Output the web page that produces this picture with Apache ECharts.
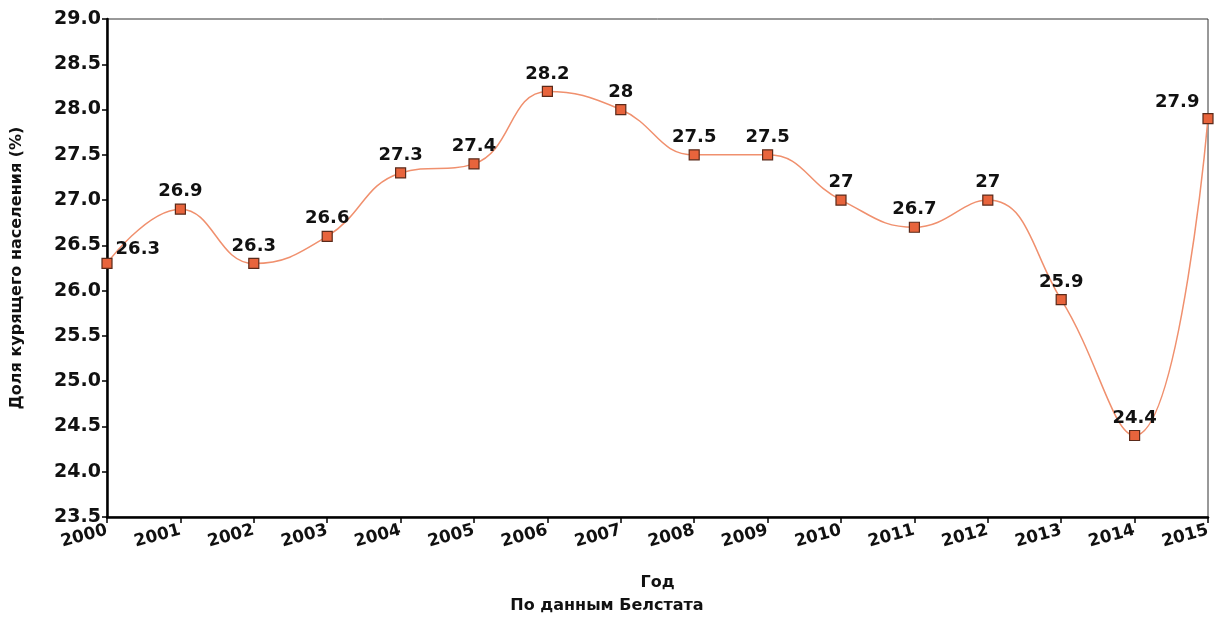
<!DOCTYPE html>
<html><head><meta charset="utf-8">
<script src="https://cdn.jsdelivr.net/npm/echarts@6/dist/echarts.min.js"></script>
<style>html,body{margin:0;padding:0;background:#fff}#c{width:1214px;height:619px}</style>
</head><body><div id="c"></div>
<script>
const years = ['2000','2001','2002','2003','2004','2005','2006','2007','2008','2009','2010','2011','2012','2013','2014','2015'];
const values = [26.3,26.9,26.3,26.6,27.3,27.4,28.2,28,27.5,27.5,27,26.7,27,25.9,24.4,27.9];
const yTitle = 'Доля курящего населения (%)';
const xTitle = 'Год';
const sourceText = 'По данным Белстата';

const FONT = 'DejaVu Sans';
const data = values.map((v, i) => {
  const d = { value: v };
  if (i === 0) d.label = { position: 'right', offset: [0, -14] };
  if (i === values.length - 1) d.label = { position: 'left', offset: [0, -16] };
  return d;
});

const chart = echarts.init(document.getElementById('c'));
chart.setOption({
  animation: false,
  grid: { left: 107, right: 6, top: 19, bottom: 102, show: true, borderColor: '#333', borderWidth: 1 },
  xAxis: {
    type: 'category', data: years, boundaryGap: false,
    axisLine: { lineStyle: { color: '#000', width: 2.5 } },
    axisTick: { show: true, length: 6, lineStyle: { color: '#000', width: 1.5 } },
    axisLabel: { rotate: 15, color: '#111', fontSize: 17, fontWeight: 'bold', fontFamily: FONT, margin: 13 },
    splitLine: { show: false },
    name: xTitle, nameLocation: 'middle', nameGap: 58,
    nameTextStyle: { fontSize: 16, fontWeight: 'bold', color: '#111', fontFamily: FONT }
  },
  yAxis: {
    type: 'value', min: 23.5, max: 29, interval: 0.5,
    axisLine: { show: true, lineStyle: { color: '#000', width: 2.5 } },
    axisTick: { show: true, length: 5, lineStyle: { color: '#000', width: 1.5 } },
    axisLabel: { color: '#111', fontSize: 19, fontWeight: 'bold', fontFamily: FONT, margin: 6, formatter: v => v.toFixed(1) },
    splitLine: { show: false },
    name: yTitle, nameLocation: 'middle', nameGap: 82,
    nameTextStyle: { fontSize: 16, fontWeight: 'bold', color: '#111', fontFamily: FONT }
  },
  graphic: [{
    type: 'text', left: 'center', top: 598,
    style: { text: sourceText, fill: '#111', font: 'bold 16px "DejaVu Sans"' }
  }],
  series: [{
    type: 'line', data: data, smooth: 0.45,
    symbol: 'rect', symbolSize: 10,
    lineStyle: { color: '#f0906e', width: 1.5 },
    itemStyle: { color: '#e8643c', borderColor: '#5a2a1a', borderWidth: 1.2 },
    label: { show: true, position: 'top', distance: 3, color: '#111', fontSize: 18, fontWeight: 'bold', fontFamily: FONT },
    z: 3
  }]
});
</script></body></html>
